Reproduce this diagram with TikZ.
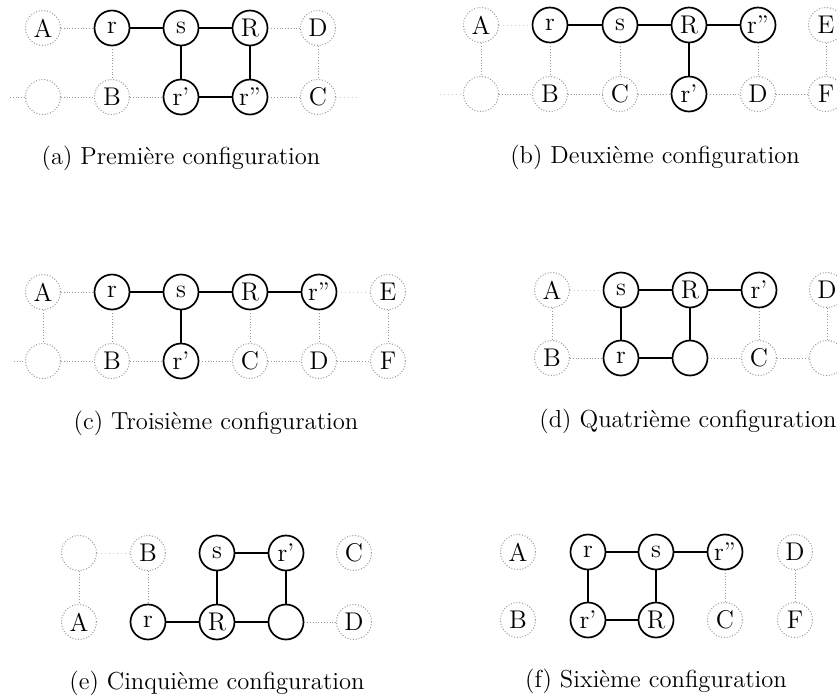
\documentclass[tikz,border=0pt]{standalone}
\begin{document}
\begin{tikzpicture}[x=0.5pt,y=-0.5pt,
  sol/.style={circle,draw=black,line width=0.85pt,minimum size=17.5pt,inner sep=0pt,font=\fontsize{12.8}{14}\selectfont},
  dnode/.style={circle,draw=black!40,line width=0.5pt,dash pattern=on 0.5pt off 0.9pt,minimum size=17.5pt,inner sep=0pt,font=\fontsize{12.8}{14}\selectfont},
  ln/.style={draw=black,line width=0.85pt},
  dl/.style={draw=black!40,line width=0.5pt,dash pattern=on 0.5pt off 0.9pt},
  fl/.style={draw=black!20,line width=0.5pt,dash pattern=on 0.5pt off 1.5pt},
  captext/.style={font=\fontsize{12.3}{14}\selectfont,inner sep=0pt}]
\useasboundingbox (0,0) rectangle (837,698);
% ---------- (a)
\node[dnode] (aA) at (43,28) {A};
\node[sol] (ar) at (112,28) {r};
\node[sol] (as) at (181,28) {s};
\node[sol] (aR) at (250,28) {R};
\node[dnode] (aD) at (318,28) {D};
\node[dnode] (ae) at (43,97) {};
\node[dnode] (aB) at (112,97) {B};
\node[sol] (arp) at (181,97) {r'};
\node[sol] (arpp) at (250,97) {r''};
\node[dnode] (aC) at (318,97) {C};
\coordinate (aL) at (10,97);
\coordinate (aRt) at (358,97);
\draw[dl] (aA) -- (ar);
\draw[ln] (ar) -- (as);
\draw[ln] (as) -- (aR);
\draw[dl] (aR) -- (aD);
\draw[dl] (ar) -- (aB);
\draw[ln] (as) -- (arp);
\draw[ln] (aR) -- (arpp);
\draw[dl] (aD) -- (aC);
\draw[dl] (aL) -- (ae);
\draw[dl] (ae) -- (aB);
\draw[dl] (aB) -- (arp);
\draw[ln] (arp) -- (arpp);
\draw[dl] (arpp) -- (aC);
\draw[fl] (aC) -- (aRt);
\node[captext] (capa) at (181,158) {(a) Première configuration};
% ---------- (b)
\node[dnode] (bA) at (481,25) {A};
\node[sol] (br) at (550,25) {r};
\node[sol] (bs) at (620,25) {s};
\node[sol] (bR) at (689,25) {R};
\node[sol] (brpp) at (758,25) {r''};
\node[dnode] (bE) at (826,25) {E};
\node[dnode] (be) at (481,94) {};
\node[dnode] (bB) at (550,94) {B};
\node[dnode] (bC) at (620,94) {C};
\node[sol] (brp) at (689,94) {r'};
\node[dnode] (bD) at (758,94) {D};
\node[dnode] (bF) at (826,94) {F};
\coordinate (bL) at (440,94);
\draw[fl] (bA) -- (br);
\draw[ln] (br) -- (bs);
\draw[ln] (bs) -- (bR);
\draw[ln] (bR) -- (brpp);
\draw[dl] (bA) -- (be);
\draw[dl] (br) -- (bB);
\draw[dl] (bs) -- (bC);
\draw[ln] (bR) -- (brp);
\draw[dl] (brpp) -- (bD);
\draw[dl] (bE) -- (bF);
\draw[fl] (bL) -- (be);
\draw[dl] (be) -- (bB);
\draw[dl] (bB) -- (bC);
\draw[dl] (bC) -- (brp);
\draw[dl] (brp) -- (bD);
\draw[dl] (bD) -- (bF);
\node[captext] (capb) at (655,157) {(b) Deuxième configuration};
% ---------- (c)
\node[dnode] (cA) at (43,292) {A};
\node[sol] (cr) at (112,292) {r};
\node[sol] (cs) at (181,292) {s};
\node[sol] (cR) at (250,292) {R};
\node[sol] (crpp) at (319,292) {r''};
\node[dnode] (cE) at (388,292) {E};
\node[dnode] (ce) at (43,361) {};
\node[dnode] (cB) at (112,361) {B};
\node[sol] (crp) at (181,361) {r'};
\node[dnode] (cC) at (250,361) {C};
\node[dnode] (cD) at (319,361) {D};
\node[dnode] (cF) at (388,361) {F};
\coordinate (cL) at (14,361);
\draw[dl] (cA) -- (cr);
\draw[ln] (cr) -- (cs);
\draw[ln] (cs) -- (cR);
\draw[ln] (cR) -- (crpp);
\draw[fl] (crpp) -- (cE);
\draw[dl] (cA) -- (ce);
\draw[dl] (cr) -- (cB);
\draw[ln] (cs) -- (crp);
\draw[dl] (cR) -- (cC);
\draw[dl] (crpp) -- (cD);
\draw[dl] (cE) -- (cF);
\draw[dl] (cL) -- (ce);
\draw[dl] (ce) -- (cB);
\draw[dl] (cB) -- (crp);
\draw[dl] (crp) -- (cC);
\draw[dl] (cC) -- (cD);
\draw[dl] (cD) -- (cF);
\node[captext] (capc) at (216,423) {(c) Troisième configuration};
% ---------- (d)
\node[dnode] (dA) at (552,290) {A};
\node[sol] (ds) at (621,290) {s};
\node[sol] (dR) at (690,290) {R};
\node[sol] (drp) at (759,290) {r'};
\node[dnode] (dD) at (827,290) {D};
\node[dnode] (dB) at (552,358) {B};
\node[sol] (dr) at (621,358) {r};
\node[sol] (dm) at (690,358) {};
\node[dnode] (dC) at (759,358) {C};
\node[dnode] (de) at (827,358) {};
\draw[fl] (dA) -- (ds);
\draw[ln] (ds) -- (dR);
\draw[ln] (dR) -- (drp);
\draw[dl] (dA) -- (dB);
\draw[ln] (ds) -- (dr);
\draw[ln] (dR) -- (dm);
\draw[dl] (drp) -- (dC);
\draw[dl] (dD) -- (de);
\draw[dl] (dB) -- (dr);
\draw[ln] (dr) -- (dm);
\draw[dl] (dm) -- (dC);
\draw[dl] (dC) -- (de);
\node[captext,anchor=west] (capd) at (539,421) {(d) Quatrième configuration};
% ---------- (e)
\node[dnode] (ee) at (79,553) {};
\node[dnode] (eB) at (148,553) {B};
\node[sol] (es) at (217,553) {s};
\node[sol] (erp) at (286,553) {r'};
\node[dnode] (eC) at (354,553) {C};
\node[dnode] (eA) at (79,622) {A};
\node[sol] (er) at (148,622) {r};
\node[sol] (eR) at (217,622) {R};
\node[sol] (em) at (286,622) {};
\node[dnode] (eD) at (354,622) {D};
\draw[fl] (ee) -- (eB);
\draw[ln] (es) -- (erp);
\draw[dl] (ee) -- (eA);
\draw[dl] (eB) -- (er);
\draw[ln] (es) -- (eR);
\draw[ln] (erp) -- (em);
\draw[ln] (er) -- (eR);
\draw[ln] (eR) -- (em);
\draw[dl] (em) -- (eD);
\node[captext] (cape) at (217,683) {(e) Cinquième configuration};
% ---------- (f)
\node[dnode] (fA) at (518,552) {A};
\node[sol] (fr) at (588,552) {r};
\node[sol] (fs) at (656,552) {s};
\node[sol] (frpp) at (725,552) {r''};
\node[dnode] (fD) at (795,552) {D};
\node[dnode] (fB) at (518,620) {B};
\node[sol] (frp) at (588,620) {r'};
\node[sol] (fR) at (656,620) {R};
\node[dnode] (fC) at (725,620) {C};
\node[dnode] (fF) at (795,620) {F};
\draw[ln] (fr) -- (fs);
\draw[ln] (fs) -- (frpp);
\draw[ln] (fr) -- (frp);
\draw[ln] (fs) -- (fR);
\draw[ln] (frp) -- (fR);
\draw[dl] (frpp) -- (fC);
\draw[dl] (fD) -- (fF);
\node[captext] (capf) at (656,681) {(f) Sixième configuration};
\end{tikzpicture}
\end{document}
